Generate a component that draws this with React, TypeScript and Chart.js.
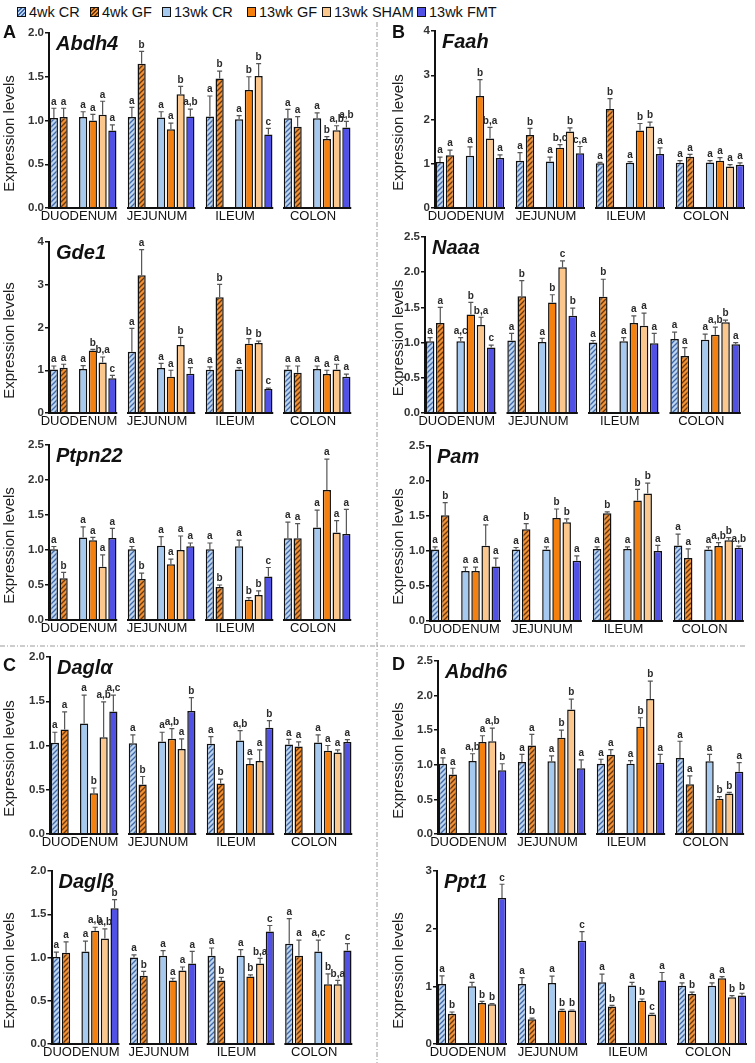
import React, { useEffect, useRef } from 'react';
import { Chart, registerables } from 'chart.js';

Chart.register(...registerables);
Chart.defaults.font.family = '"Liberation Sans", Arial, sans-serif';

// ---------------- DATA ----------------
const groups = ['DUODENUM', 'JEJUNUM', 'ILEUM', 'COLON'];
const seriesNames = ['4wk CR', '4wk GF', '13wk CR', '13wk GF', '13wk SHAM', '13wk FMT'];

// rows = groups (duodenum, jejunum, ileum, colon); columns = series in seriesNames order
const abdh4Mean = [[1.03, 1.04, 1.04, 1.0, 1.065, 0.885], [1.04, 1.65, 1.035, 0.9, 1.3, 1.045], [1.045, 1.48, 1.015, 1.35, 1.51, 0.84], [1.027, 0.93, 1.027, 0.79, 0.89, 0.92]];
const abdh4Sem = [[0.11, 0.1, 0.06, 0.07, 0.155, 0.065], [0.11, 0.14, 0.065, 0.07, 0.09, 0.085], [0.235, 0.085, 0.04, 0.15, 0.14, 0.07], [0.1, 0.115, 0.06, 0.025, 0.05, 0.07]];
const abdh4Sig = [['a', 'a', 'a', 'a', 'a', 'a'], ['a', 'b', 'a', 'a', 'b', 'a,b'], ['a', 'b', 'a', 'b', 'b', 'c'], ['a', 'a', 'a', 'b', 'a,b', 'a,b']];

const faahMean = [[1.04, 1.19, 1.18, 2.53, 1.57, 1.13], [1.07, 1.65, 1.05, 1.36, 1.73, 1.24], [1.01, 2.24, 1.02, 1.75, 1.84, 1.22], [1.02, 1.16, 1.03, 1.07, 0.94, 0.98]];
const faahSem = [[0.11, 0.12, 0.2, 0.37, 0.25, 0.07], [0.18, 0.15, 0.1, 0.07, 0.08, 0.15], [0.02, 0.23, 0.03, 0.16, 0.1, 0.14], [0.05, 0.05, 0.04, 0.07, 0.04, 0.04]];
const faahSig = [['a', 'a', 'a', 'b', 'b,a', 'a'], ['a', 'b', 'a', 'b,c', 'b', 'c,a'], ['a', 'b', 'a', 'b', 'b', 'a'], ['a', 'a', 'a', 'a', 'a', 'a']];

const gde1Mean = [[1.02, 1.06, 1.03, 1.46, 1.18, 0.81], [1.43, 3.22, 1.05, 0.85, 1.59, 0.92], [1.01, 2.71, 1.02, 1.62, 1.64, 0.56], [1.02, 0.94, 1.03, 0.91, 1.02, 0.85]];
const gde1Sem = [[0.08, 0.08, 0.08, 0.03, 0.13, 0.07], [0.55, 0.6, 0.11, 0.15, 0.18, 0.14], [0.07, 0.3, 0.04, 0.12, 0.04, 0.02], [0.08, 0.16, 0.07, 0.09, 0.12, 0.06]];
const gde1Sig = [['a', 'a', 'a', 'b', 'b,a', 'c'], ['a', 'a', 'a', 'a', 'b', 'a'], ['a', 'b', 'a', 'b', 'b', 'c'], ['a', 'a', 'a', 'a', 'a', 'a']];

const naaaMean = [[1.02, 1.28, 1.02, 1.4, 1.25, 0.93], [1.03, 1.66, 1.01, 1.57, 2.07, 1.38], [1.0, 1.65, 1.02, 1.28, 1.24, 0.99], [1.05, 0.81, 1.04, 1.11, 1.29, 0.975]];
const naaaSem = [[0.05, 0.22, 0.05, 0.17, 0.11, 0.035], [0.1, 0.22, 0.05, 0.11, 0.09, 0.11], [0.03, 0.25, 0.05, 0.1, 0.18, 0.14], [0.1, 0.12, 0.08, 0.11, 0.03, 0.025]];
const naaaSig = [['a', 'a', 'a,c', 'b', 'b,a', 'c'], ['a', 'b', 'a', 'b', 'c', 'b'], ['a', 'b', 'a', 'a', 'a', 'a'], ['a', 'a', 'a', 'a,b', 'b', 'a']];

const ptpn22Mean = [[1.01, 0.595, 1.18, 1.14, 0.76, 1.17], [1.01, 0.585, 1.06, 0.795, 1.0, 1.055], [1.01, 0.47, 1.055, 0.29, 0.357, 0.62], [1.167, 1.167, 1.32, 1.857, 1.25, 1.23]];
const ptpn22Sem = [[0.04, 0.085, 0.15, 0.04, 0.17, 0.14], [0.04, 0.085, 0.13, 0.075, 0.2, 0.045], [0.09, 0.03, 0.085, 0.03, 0.06, 0.13], [0.23, 0.21, 0.25, 0.44, 0.17, 0.35]];
const ptpn22Sig = [['a', 'b', 'a', 'a', 'a', 'a'], ['a', 'b', 'a', 'a', 'a', 'a'], ['a', 'b', 'a', 'b', 'b', 'c'], ['a', 'a', 'a', 'a', 'a', 'a']];

const pamMean = [[1.02, 1.51, 0.716, 0.716, 1.074, 0.778], [1.02, 1.31, 1.02, 1.47, 1.41, 0.86], [1.03, 1.54, 1.03, 1.72, 1.82, 1.0], [1.08, 0.9, 1.02, 1.07, 1.155, 1.045]];
const pamSem = [[0.04, 0.18, 0.055, 0.055, 0.3, 0.12], [0.03, 0.08, 0.04, 0.13, 0.05, 0.07], [0.03, 0.02, 0.03, 0.16, 0.15, 0.08], [0.16, 0.13, 0.04, 0.05, 0.035, 0.025]];
const pamSig = [['a', 'b', 'a', 'a', 'a', 'a'], ['a', 'b', 'a', 'b', 'b', 'a'], ['a', 'b', 'a', 'b', 'b', 'a'], ['a', 'a', 'a', 'a,b', 'b', 'a,b']];

const daglaMean = [[1.03, 1.18, 1.25, 0.46, 1.094, 1.385], [1.026, 0.56, 1.045, 1.075, 0.96, 1.39], [1.02, 0.57, 1.057, 0.79, 0.826, 1.2], [1.01, 0.99, 1.034, 0.94, 0.92, 1.04]];
const daglaSem = [[0.12, 0.2, 0.32, 0.06, 0.4, 0.185], [0.095, 0.09, 0.105, 0.115, 0.115, 0.15], [0.08, 0.05, 0.11, 0.06, 0.125, 0.08], [0.06, 0.05, 0.086, 0.06, 0.03, 0.026]];
const daglaSig = [['a', 'a', 'a', 'b', 'a,b', 'a,c'], ['a', 'b', 'a', 'a,b', 'a', 'b'], ['a', 'b', 'a,b', 'a', 'a', 'b'], ['a', 'a', 'a', 'a', 'a', 'a']];

const abdh6Mean = [[1.015, 0.86, 1.055, 1.33, 1.34, 0.92], [1.04, 1.28, 1.05, 1.39, 1.8, 0.95], [1.015, 1.145, 1.015, 1.55, 1.95, 1.03], [1.1, 0.72, 1.05, 0.51, 0.586, 0.9]];
const abdh6Sem = [[0.085, 0.09, 0.105, 0.09, 0.19, 0.095], [0.11, 0.16, 0.08, 0.11, 0.15, 0.12], [0.065, 0.075, 0.045, 0.13, 0.26, 0.12], [0.24, 0.12, 0.1, 0.03, 0.015, 0.13]];
const abdh6Sig = [['a', 'a', 'a,b', 'a', 'a,b', 'b'], ['a', 'a', 'a', 'b', 'b', 'a'], ['a', 'a', 'a', 'b', 'b', 'a'], ['a', 'a', 'a', 'b', 'b', 'a']];

const daglbMean = [[1.006, 1.056, 1.07, 1.31, 1.22, 1.57], [1.0, 0.79, 1.02, 0.735, 0.85, 0.93], [1.02, 0.735, 1.02, 0.78, 0.93, 1.3], [1.16, 1.02, 1.07, 0.69, 0.69, 1.08]];
const daglbSem = [[0.055, 0.125, 0.12, 0.04, 0.11, 0.1], [0.03, 0.05, 0.06, 0.025, 0.04, 0.14], [0.09, 0.035, 0.07, 0.02, 0.06, 0.07], [0.29, 0.18, 0.13, 0.12, 0.045, 0.08]];
const daglbSig = [['a', 'a', 'a', 'a,b', 'a,b', 'b'], ['a', 'b', 'a', 'a', 'a', 'a'], ['a', 'b', 'a', 'b', 'b,a', 'c'], ['a', 'a', 'a,c', 'b', 'b,a', 'c']];

const ppt1Mean = [[1.04, 0.525, 1.0, 0.71, 0.69, 2.53], [1.04, 0.43, 1.056, 0.58, 0.58, 1.79], [1.07, 0.65, 1.015, 0.75, 0.51, 1.1], [1.01, 0.866, 1.01, 1.14, 0.81, 0.84]];
const ppt1Sem = [[0.14, 0.03, 0.07, 0.03, 0.01, 0.24], [0.11, 0.02, 0.12, 0.02, 0.01, 0.16], [0.14, 0.02, 0.055, 0.03, 0.02, 0.14], [0.05, 0.035, 0.05, 0.03, 0.03, 0.04]];
const ppt1Sig = [['a', 'b', 'a', 'b', 'b', 'c'], ['a', 'b', 'a', 'b', 'b', 'c'], ['a', 'b', 'a', 'b', 'c', 'a'], ['a', 'b', 'a', 'a', 'b', 'b']];

// ---------------- STYLE / LAYOUT ----------------
const COLORS = {
  cr4Bg: '#bcd6f2', cr4Fg: '#4068a8',
  gf4Bg: '#f29034', gf4Fg: '#6a3507',
  cr13: '#a6c9ef', gf13: '#f5800e', sham13: '#fcc78c', fmt13: '#5151e5',
};
const PAD_TOP = 10;
const X_H = 22;

type Panel = {
  gene: string; col: number; axisX: number; top: number; zero: number; w: number;
  max: number; step: number; dec: number;
  mean: number[][]; sem: number[][]; sig: string[][];
};

const panels: Panel[] = [
  { gene: 'Abdh4', col: 0, axisX: 49, top: 33, zero: 207.5, w: 78, max: 2, step: 0.5, dec: 1, mean: abdh4Mean, sem: abdh4Sem, sig: abdh4Sig },
  { gene: 'Faah', col: 1, axisX: 435, top: 31, zero: 207.7, w: 80, max: 4, step: 1, dec: 0, mean: faahMean, sem: faahSem, sig: faahSig },
  { gene: 'Gde1', col: 0, axisX: 49, top: 242, zero: 412.7, w: 78, max: 4, step: 1, dec: 0, mean: gde1Mean, sem: gde1Sem, sig: gde1Sig },
  { gene: 'Naaa', col: 1, axisX: 425, top: 237, zero: 412.7, w: 81.5, max: 2.5, step: 0.5, dec: 1, mean: naaaMean, sem: naaaSem, sig: naaaSig },
  { gene: 'Ptpn22', col: 0, axisX: 49, top: 445, zero: 620, w: 78, max: 2.5, step: 0.5, dec: 1, mean: ptpn22Mean, sem: ptpn22Sem, sig: ptpn22Sig },
  { gene: 'Pam', col: 1, axisX: 430, top: 446, zero: 620.5, w: 81, max: 2.5, step: 0.5, dec: 1, mean: pamMean, sem: pamSem, sig: pamSig },
  { gene: 'Daglα', col: 0, axisX: 50, top: 657, zero: 834, w: 78, max: 2, step: 0.5, dec: 1, mean: daglaMean, sem: daglaSem, sig: daglaSig },
  { gene: 'Abdh6', col: 1, axisX: 438, top: 661, zero: 833.5, w: 79, max: 2.5, step: 0.5, dec: 1, mean: abdh6Mean, sem: abdh6Sem, sig: abdh6Sig },
  { gene: 'Daglβ', col: 0, axisX: 51.5, top: 871, zero: 1043.5, w: 77.5, max: 2, step: 0.5, dec: 1, mean: daglbMean, sem: daglbSem, sig: daglbSig },
  { gene: 'Ppt1', col: 1, axisX: 437, top: 871, zero: 1044, w: 80, max: 3, step: 1, dec: 0, mean: ppt1Mean, sem: ppt1Sem, sig: ppt1Sig },
];

// dataset slots: 4wk CR, 4wk GF, (gap), 13wk CR, 13wk GF, 13wk SHAM, 13wk FMT, (gap)
const slotOf = [0, 1, 3, 4, 5, 6];
const SLOTS = 8;

function hatch(bg: string, fg: string): CanvasPattern | string {
  const c = document.createElement('canvas');
  c.width = 5; c.height = 5;
  const x = c.getContext('2d');
  if (!x) return bg;
  x.fillStyle = bg; x.fillRect(0, 0, 5, 5);
  x.strokeStyle = fg; x.lineWidth = 1.3;
  x.beginPath();
  x.moveTo(0, 5); x.lineTo(5, 0);
  x.moveTo(-1, 1); x.lineTo(1, -1);
  x.moveTo(4, 6); x.lineTo(6, 4);
  x.stroke();
  return x.createPattern(c, 'repeat') || bg;
}

function PanelChart({ p }: { p: Panel }) {
  const ref = useRef<HTMLCanvasElement>(null);
  const canvasLeft = p.col === 0 ? 0 : 378;
  const canvasTop = p.top - PAD_TOP;
  const width = Math.round(p.axisX + 4 * p.w - canvasLeft);
  const height = Math.round(p.zero + X_H - canvasTop);
  const titleX = (p.col === 0 ? 10 : 399) - canvasLeft;

  useEffect(() => {
    const canvas = ref.current;
    if (!canvas) return;
    const fills: any[] = [
      hatch(COLORS.cr4Bg, COLORS.cr4Fg), hatch(COLORS.gf4Bg, COLORS.gf4Fg),
      COLORS.cr13, COLORS.gf13, COLORS.sham13, COLORS.fmt13,
    ];
    const datasets: any[] = [];
    for (let slot = 0; slot < SLOTS; slot++) {
      const s = slotOf.indexOf(slot);
      datasets.push({
        label: s >= 0 ? seriesNames[s] : '',
        data: groups.map((_, g) => (s >= 0 ? p.mean[g][s] : null)),
        backgroundColor: s >= 0 ? fills[s] : 'transparent',
        borderColor: '#111',
        borderWidth: 1.5,
        categoryPercentage: 1,
        barPercentage: 0.84,
      });
    }

    const deco = {
      id: 'deco',
      afterDatasetsDraw(chart: any) {
        const { ctx, chartArea } = chart;
        const y = chart.scales.y;
        ctx.save();
        // error bars + letters
        seriesNames.forEach((_, s) => {
          const meta = chart.getDatasetMeta(slotOf[s]);
          meta.data.forEach((bar: any, g: number) => {
            const m = p.mean[g][s];
            const e = p.sem[g][s];
            const yTop = y.getPixelForValue(m + e);
            ctx.strokeStyle = '#555';
            ctx.lineWidth = 1.2;
            ctx.beginPath();
            ctx.moveTo(bar.x, bar.y);
            ctx.lineTo(bar.x, yTop);
            ctx.moveTo(bar.x - 2.5, yTop);
            ctx.lineTo(bar.x + 2.5, yTop);
            ctx.stroke();
            ctx.fillStyle = '#2a2a2a';
            ctx.font = 'bold 10px "Liberation Sans", Arial, sans-serif';
            ctx.textAlign = 'center';
            ctx.textBaseline = 'bottom';
            ctx.fillText(p.sig[g][s], bar.x, yTop - 1.5);
          });
        });
        // broken x-axis segments
        const w = (chartArea.right - chartArea.left) / groups.length;
        ctx.strokeStyle = '#111';
        ctx.lineWidth = 2;
        groups.forEach((_, g) => {
          const x0 = chartArea.left + g * w - (g === 0 ? 1 : 0);
          const x1 = chartArea.left + g * w + (w * 7) / SLOTS;
          ctx.beginPath();
          ctx.moveTo(x0, chartArea.bottom);
          ctx.lineTo(x1, chartArea.bottom);
          ctx.stroke();
        });
        // gene title
        ctx.fillStyle = '#111';
        ctx.font = 'italic bold 20px "Liberation Sans", Arial, sans-serif';
        ctx.textAlign = 'left';
        ctx.textBaseline = 'alphabetic';
        ctx.fillText(p.gene, chartArea.left + 7, chartArea.top + 17);
        // y title
        ctx.translate(titleX, (chartArea.top + chartArea.bottom) / 2 + 13);
        ctx.rotate(-Math.PI / 2);
        ctx.font = '15px "Liberation Sans", Arial, sans-serif';
        ctx.fillStyle = '#222';
        ctx.textAlign = 'center';
        ctx.textBaseline = 'middle';
        ctx.fillText('Expression levels', 0, 0);
        ctx.restore();
      },
    };

    const chart = new Chart(canvas, {
      type: 'bar',
      data: { labels: groups, datasets },
      options: {
        responsive: false,
        animation: false,
        layout: { padding: { top: PAD_TOP, left: 0, right: 0, bottom: 0 } },
        plugins: { legend: { display: false }, tooltip: { enabled: false } },
        scales: {
          x: {
            type: 'category',
            offset: true,
            grid: { display: false, drawTicks: false },
            border: { display: false },
            ticks: { font: { size: 13 }, color: '#111', padding: 1, labelOffset: -9, maxRotation: 0, autoSkip: false },
            afterFit: (s: any) => { s.height = X_H; },
          },
          y: {
            min: 0,
            max: p.max,
            ticks: {
              stepSize: p.step,
              callback: (v: any) => Number(v).toFixed(p.dec),
              font: { size: 11.5, weight: 'bold' },
              color: '#333',
              padding: 1,
            },
            grid: { drawOnChartArea: false, drawTicks: true, tickLength: 4, color: '#111', lineWidth: 1.5 },
            border: { display: true, color: '#111', width: 2 },
            afterFit: (s: any) => { s.width = p.axisX - canvasLeft; },
          },
        },
      } as any,
      plugins: [deco],
    });
    return () => chart.destroy();
  }, []);

  return (
    <canvas
      ref={ref}
      width={width}
      height={height}
      style={{ position: 'absolute', left: canvasLeft, top: canvasTop, width, height }}
    />
  );
}

const legendX = [17, 90, 162, 247, 322, 417];

function LegendBox({ i }: { i: number }) {
  const bgs = [
    `repeating-linear-gradient(135deg, ${COLORS.cr4Bg} 0px, ${COLORS.cr4Bg} 1.6px, ${COLORS.cr4Fg} 1.6px, ${COLORS.cr4Fg} 3px)`,
    `repeating-linear-gradient(135deg, ${COLORS.gf4Bg} 0px, ${COLORS.gf4Bg} 1.6px, ${COLORS.gf4Fg} 1.6px, ${COLORS.gf4Fg} 3px)`,
    COLORS.cr13, COLORS.gf13, COLORS.sham13, COLORS.fmt13,
  ];
  return (
    <div style={{ width: 9, height: 10, boxSizing: 'border-box', border: '1.5px solid #111', background: bgs[i] }} />
  );
}

const letters = [
  { t: 'A', x: 3, y: 23 },
  { t: 'B', x: 392, y: 23 },
  { t: 'C', x: 3, y: 656 },
  { t: 'D', x: 392, y: 655 },
];

export default function App() {
  return (
    <div style={{ position: 'fixed', left: 0, top: 0, width: 755, height: 1063, overflow: 'hidden', background: '#fff', fontFamily: '"Liberation Sans", Arial, sans-serif' }}>
      {seriesNames.map((n, i) => (
        <div key={n} style={{ position: 'absolute', left: legendX[i], top: 4, display: 'flex', alignItems: 'center', height: 16 }}>
          <LegendBox i={i} />
          <span style={{ marginLeft: 3, fontSize: 14.5, lineHeight: '16px', color: '#111', whiteSpace: 'nowrap' }}>{n}</span>
        </div>
      ))}
      {panels.map((p) => <PanelChart key={p.gene} p={p} />)}
      {letters.map((l) => (
        <div key={l.t} style={{ position: 'absolute', left: l.x, top: l.y, fontSize: 18, lineHeight: '18px', fontWeight: 'bold', color: '#111' }}>{l.t}</div>
      ))}
      <svg width={755} height={1063} style={{ position: 'absolute', left: 0, top: 0, pointerEvents: 'none' }}>
        <line x1={377} y1={22} x2={377} y2={1063} stroke="#9a9a9a" strokeWidth={1} strokeDasharray="5 2 1 2" />
        <line x1={0} y1={646} x2={746} y2={646} stroke="#9a9a9a" strokeWidth={1} strokeDasharray="5 2 1 2" />
      </svg>
    </div>
  );
}
